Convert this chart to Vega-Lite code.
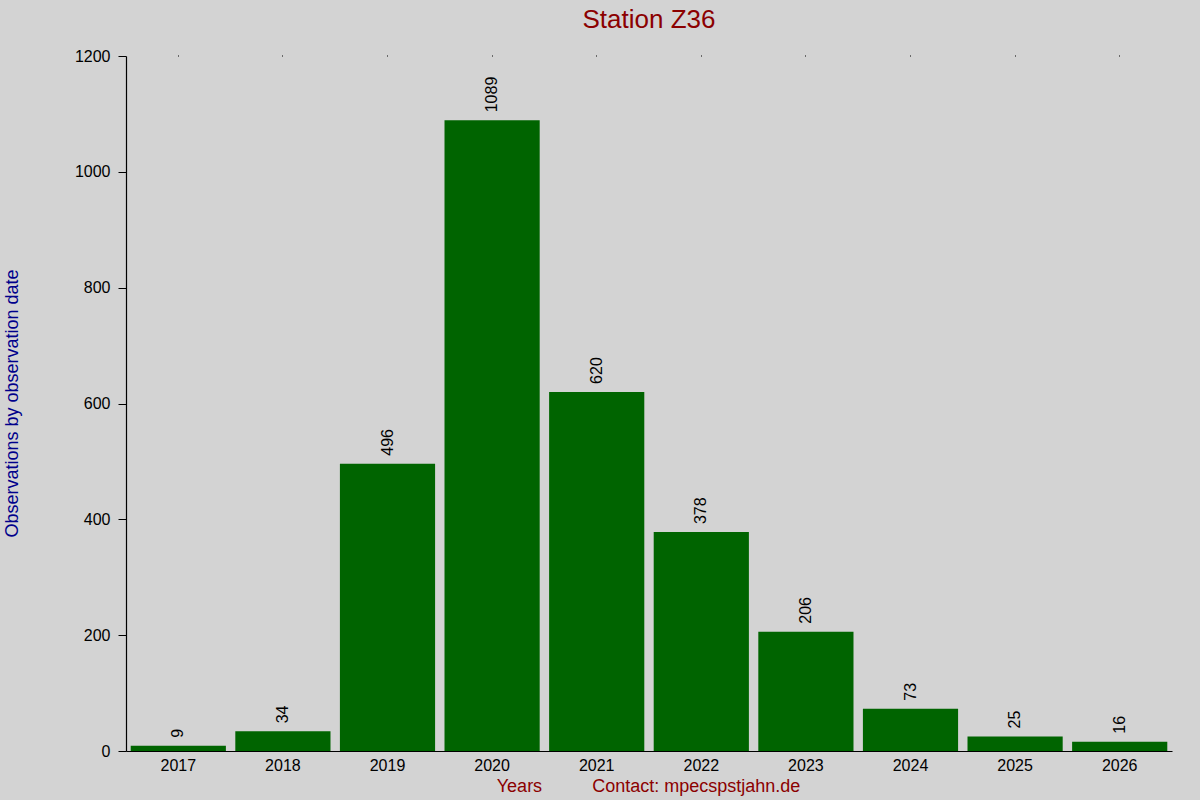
{
  "$schema": "https://vega.github.io/schema/vega-lite/v6.json",
  "autosize": {"type": "none"},
  "padding": {"left": 126, "top": 56, "right": 28, "bottom": 49},
  "width": 1046,
  "height": 695,
  "background": "#d3d3d3",
  "config": {
    "view": {"stroke": null},
    "font": "Liberation Sans",
    "axis": {"labelFont": "Liberation Sans", "titleFont": "Liberation Sans", "labelColor": "black", "domainColor": "black", "tickColor": "black"}
  },
  "title": {
    "text": "Station Z36",
    "color": "#8b0000",
    "fontSize": 26,
    "fontWeight": "normal",
    "anchor": "middle",
    "offset": 15
  },
  "data": {
    "values": [
      {"year": "2017", "count": 9},
      {"year": "2018", "count": 34},
      {"year": "2019", "count": 496},
      {"year": "2020", "count": 1089},
      {"year": "2021", "count": 620},
      {"year": "2022", "count": 378},
      {"year": "2023", "count": 206},
      {"year": "2024", "count": 73},
      {"year": "2025", "count": 25},
      {"year": "2026", "count": 16}
    ]
  },
  "resolve": {"axis": {"x": "independent"}},
  "layer": [
    {
      "mark": {"type": "bar", "color": "#006400"},
      "encoding": {
        "x": {
          "field": "year",
          "type": "ordinal",
          "scale": {"paddingInner": 0.09, "paddingOuter": 0.045},
          "axis": {
            "title": "Years\u00a0\u00a0\u00a0\u00a0\u00a0\u00a0\u00a0\u00a0\u00a0\u00a0Contact: mpecspstjahn.de",
            "titleColor": "#8b0000",
            "titleFontSize": 18,
            "titleFontWeight": "normal",
            "titleX": 522,
            "titleY": 35,
            "titleAlign": "center",
            "titleBaseline": "middle",
            "labelAngle": 0,
            "labelFontSize": 16,
            "labelPadding": 6,
            "ticks": false,
            "domainWidth": 1.2
          }
        },
        "y": {
          "field": "count",
          "type": "quantitative",
          "scale": {"domain": [0, 1200], "nice": false},
          "axis": {
            "values": [0, 200, 400, 600, 800, 1000, 1200],
            "format": "d",
            "title": "Observations by observation date",
            "titleColor": "#00008b",
            "titleFontSize": 18,
            "titleFontWeight": "normal",
            "titleAngle": -90,
            "titleX": -114,
            "titleY": 347,
            "titleAlign": "center",
            "titleBaseline": "middle",
            "grid": false,
            "tickSize": 8,
            "labelFontSize": 16,
            "labelPadding": 8,
            "domainWidth": 1.2
          }
        }
      }
    },
    {
      "mark": {"type": "text", "angle": -90, "align": "left", "baseline": "middle", "dx": 8, "fontSize": 16, "color": "black"},
      "encoding": {
        "x": {
          "field": "year",
          "type": "ordinal",
          "axis": {"orient": "top", "labels": false, "domain": false, "ticks": true, "tickSize": 1, "title": null}
        },
        "y": {"field": "count", "type": "quantitative"},
        "text": {"field": "count", "type": "quantitative"}
      }
    }
  ]
}
